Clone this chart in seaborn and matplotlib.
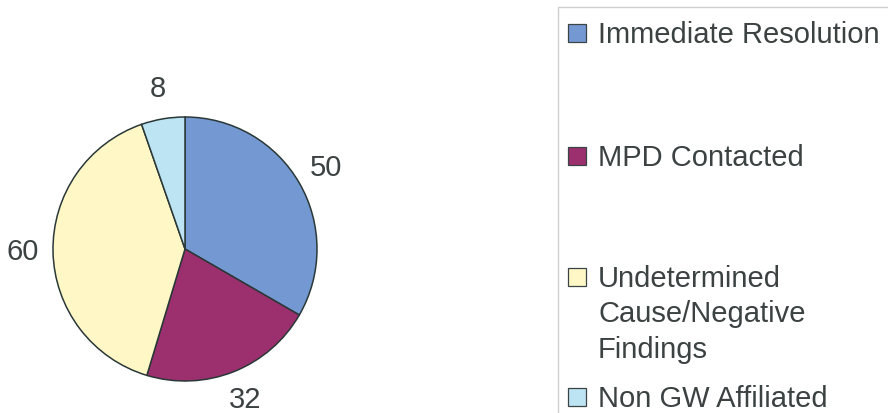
from matplotlib import pyplot as plt
from matplotlib.patches import Rectangle
import seaborn as sns
import numpy as np

categorias = ["Immediate Resolution", "MPD Contacted",
              "Undetermined\nCause/Negative\nFindings", "Non GW Affiliated"]
valores = [50, 32, 60, 8]
cores = ["#7499D2", "#9C2F6E", "#FFF8C6", "#BCE4F2"]

sns.set_style("white")
plt.rcParams["font.family"] = ["Liberation Sans", "DejaVu Sans"]

W, H = 888, 413
figure = plt.figure(figsize = (W / 100, H / 100), dpi = 100)

# pie: centre (185, 249) px from top-left, radius 132 px
cx, cy, r = 185, 249, 132
axis = figure.add_axes([(cx - r) / W, (H - cy - r) / H, 2 * r / W, 2 * r / H])
wedges, textos = axis.pie(
    valores,
    labels = [str(v) for v in valores],
    colors = cores,
    startangle = 90,
    counterclock = False,
    labeldistance = 1.23,
    wedgeprops = {"edgecolor": "#2b3838", "linewidth": 1.1},
    textprops = {"fontsize": 21, "color": "#3c4242"}
)
for t in textos:
    t.set_horizontalalignment("center")
    t.set_verticalalignment("center")
axis.set_xlim(-1, 1)
axis.set_ylim(-1, 1)
axis.axis("off")

# legend box drawn by hand (uneven entry spacing in the original)
def fx(px):
    return px / W

def fy(py):
    return 1 - py / H

figure.patches.append(Rectangle((fx(558), fy(430)), fx(360), 430 / H - 7 / H,
                                transform = figure.transFigure, facecolor = "white",
                                edgecolor = "#cfcfcf", linewidth = 1.0))

baselines = [43, 166, 287, 407]
passo = 35.5
for cat, cor, base in zip(categorias, cores, baselines):
    figure.patches.append(Rectangle((fx(568), fy(base - 1)), fx(18), 18 / H,
                                    transform = figure.transFigure, facecolor = cor,
                                    edgecolor = "#3a4444", linewidth = 0.9))
    for i, linha in enumerate(cat.split("\n")):
        figure.text(fx(598), fy(base + i * passo), linha, fontsize = 21,
                    color = "#3c4242", ha = "left", va = "baseline")

plt.savefig("out.png", dpi = 100)
